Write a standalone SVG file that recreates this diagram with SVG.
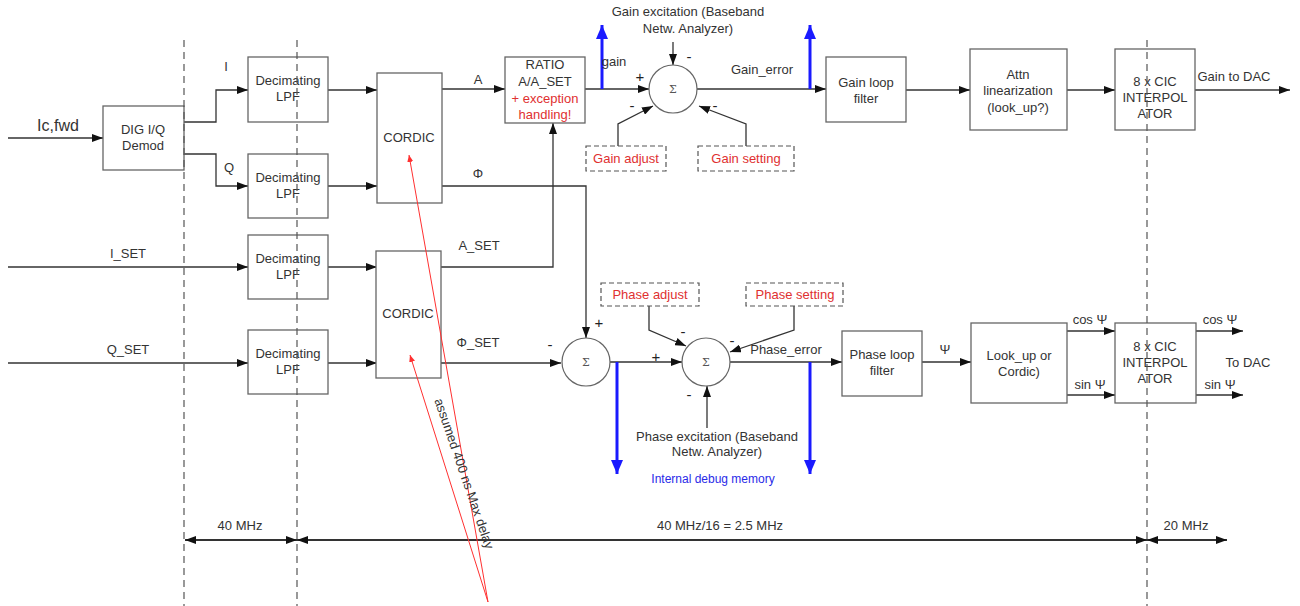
<svg xmlns="http://www.w3.org/2000/svg" width="1300" height="606" viewBox="0 0 1300 606">
<style>
text{font-family:"Liberation Sans",Arial,sans-serif;font-size:13px;fill:#333;text-anchor:middle}
.box{fill:#fff;stroke:#666;stroke-width:1.3}
.dbox{fill:#fff;stroke:#555;stroke-width:1.2;stroke-dasharray:5,3}
.red{fill:#e03030}
.blue{fill:#2a2ae8}
.w{stroke:#333;stroke-width:1.3;fill:none}
.sig{fill:#fff;stroke:#666;stroke-width:1.2}
.sg{font-family:"DejaVu Serif",serif;font-size:11px;fill:#555}
.pm{font-size:15px;fill:#222}
.grid{stroke:#555;stroke-width:1.2;stroke-dasharray:7,5;fill:none}
.dim{stroke:#333;stroke-width:2;fill:none}
.bl{stroke:#1a1aff;stroke-width:3;fill:none}
.rl{stroke:#ff3030;stroke-width:1;fill:none}
</style>
<defs>
<marker id="ah" markerUnits="userSpaceOnUse" markerWidth="11" markerHeight="8" refX="11" refY="4" orient="auto-start-reverse"><path d="M0,0 L11,4 L0,8 z" fill="#111"/></marker>
<marker id="bh" markerUnits="userSpaceOnUse" markerWidth="14" markerHeight="12" refX="14" refY="6" orient="auto"><path d="M0,0 L14,6 L0,12 z" fill="#1a1aff"/></marker>
<marker id="rh" markerUnits="userSpaceOnUse" markerWidth="7" markerHeight="6" refX="7" refY="3" orient="auto"><path d="M0,0 L7,3 L0,6 z" fill="#ff3030"/></marker>
</defs>
<rect width="1300" height="606" fill="#fff"/>

<g id="connectors">
<line class="w" x1="8" y1="138" x2="103" y2="138" marker-end="url(#ah)"/>
<polyline class="w" points="184,122 216,122 216,90 248,90" marker-end="url(#ah)"/>
<polyline class="w" points="184,154 216,154 216,186 248,186" marker-end="url(#ah)"/>
<line class="w" x1="8" y1="267" x2="248" y2="267" marker-end="url(#ah)"/>
<line class="w" x1="8" y1="363" x2="248" y2="363" marker-end="url(#ah)"/>
<line class="w" x1="328" y1="90" x2="377" y2="90" marker-end="url(#ah)"/>
<line class="w" x1="328" y1="186" x2="377" y2="186" marker-end="url(#ah)"/>
<line class="w" x1="328" y1="267" x2="377" y2="267" marker-end="url(#ah)"/>
<line class="w" x1="328" y1="363" x2="377" y2="363" marker-end="url(#ah)"/>
<line class="w" x1="442" y1="89" x2="505" y2="89" marker-end="url(#ah)"/>
<polyline class="w" points="442,186 586,186 586,338" marker-end="url(#ah)"/>
<polyline class="w" points="441,267 553,267 553,123" marker-end="url(#ah)"/>
<line class="w" x1="441" y1="363" x2="561" y2="363" marker-end="url(#ah)"/>
<line class="w" x1="585" y1="89" x2="649" y2="89" marker-end="url(#ah)"/>
<line class="w" x1="673" y1="42" x2="673" y2="65" marker-end="url(#ah)"/>
<polyline class="w" points="618,146 618,124 653,106" marker-end="url(#ah)"/>
<polyline class="w" points="746,146 746,124 699,106" marker-end="url(#ah)"/>
<line class="w" x1="697" y1="89" x2="826" y2="89" marker-end="url(#ah)"/>
<line class="w" x1="906" y1="90" x2="970" y2="90" marker-end="url(#ah)"/>
<line class="w" x1="1067" y1="90" x2="1115" y2="90" marker-end="url(#ah)"/>
<line class="w" x1="1195" y1="90" x2="1290" y2="90" marker-end="url(#ah)"/>
<line class="w" x1="610" y1="362" x2="682" y2="362" marker-end="url(#ah)"/>
<polyline class="w" points="649,306 649,330 686,346" marker-end="url(#ah)"/>
<polyline class="w" points="794,306 794,330 730,352" marker-end="url(#ah)"/>
<line class="w" x1="707" y1="428" x2="707" y2="386" marker-end="url(#ah)"/>
<line class="w" x1="730" y1="362" x2="842" y2="362" marker-end="url(#ah)"/>
<line class="w" x1="922" y1="362" x2="971" y2="362" marker-end="url(#ah)"/>
<line class="w" x1="1067" y1="331" x2="1115" y2="331" marker-end="url(#ah)"/>
<line class="w" x1="1067" y1="395" x2="1115" y2="395" marker-end="url(#ah)"/>
<line class="w" x1="1196" y1="331" x2="1243" y2="331" marker-end="url(#ah)"/>
<line class="w" x1="1196" y1="395" x2="1243" y2="395" marker-end="url(#ah)"/>
<line class="bl" x1="602" y1="89" x2="602" y2="25" marker-end="url(#bh)"/>
<line class="bl" x1="810" y1="89" x2="810" y2="25" marker-end="url(#bh)"/>
<line class="bl" x1="617" y1="362" x2="617" y2="474" marker-end="url(#bh)"/>
<line class="bl" x1="810" y1="362" x2="810" y2="474" marker-end="url(#bh)"/>
<line class="dim" x1="185" y1="540" x2="297" y2="540" marker-start="url(#ah)" marker-end="url(#ah)"/>
<line class="dim" x1="297" y1="540" x2="1147" y2="540" marker-start="url(#ah)" marker-end="url(#ah)"/>
<line class="dim" x1="1147" y1="540" x2="1227" y2="540" marker-start="url(#ah)" marker-end="url(#ah)"/>
</g>

<g id="demod"><rect class="box" x="103" y="106" width="81" height="64"/><text x="143" y="134">DIG I/Q</text><text x="143" y="150">Demod</text></g>
<g id="lpf1"><rect class="box" x="248" y="57" width="80" height="65"/><text x="288" y="85">Decimating</text><text x="288" y="101">LPF</text></g>
<g id="lpf2"><rect class="box" x="248" y="154" width="80" height="64"/><text x="288" y="182">Decimating</text><text x="288" y="198">LPF</text></g>
<g id="lpf3"><rect class="box" x="248" y="235" width="80" height="64"/><text x="288" y="263">Decimating</text><text x="288" y="279">LPF</text></g>
<g id="lpf4"><rect class="box" x="248" y="330" width="80" height="64"/><text x="288" y="358">Decimating</text><text x="288" y="374">LPF</text></g>
<g id="cordic1"><rect class="box" x="377" y="73" width="65" height="130"/><text x="409" y="142">CORDIC</text></g>
<g id="cordic2"><rect class="box" x="376" y="251" width="65" height="127"/><text x="408" y="318">CORDIC</text></g>
<g id="ratio"><rect class="box" x="505" y="57" width="80" height="66"/><text x="545" y="69">RATIO</text><text x="545" y="86">A/A_SET</text><text class="red" x="545" y="103">+ exception</text><text class="red" x="545" y="119">handling!</text></g>
<g id="sumGain"><circle class="sig" cx="673" cy="89" r="24"/><text class="sg" x="673" y="93">Σ</text></g>
<g id="gainAdjust"><rect class="dbox" x="586" y="146" width="80" height="25"/><text class="red" x="626" y="163">Gain adjust</text></g>
<g id="gainSetting"><rect class="dbox" x="698" y="146" width="96" height="25"/><text class="red" x="746" y="163">Gain setting</text></g>
<g id="gainLoop"><rect class="box" x="826" y="57" width="80" height="65"/><text x="866" y="87">Gain loop</text><text x="866" y="103">filter</text></g>
<g id="attn"><rect class="box" x="970" y="49" width="97" height="81"/><text x="1018" y="79">Attn</text><text x="1018" y="95">linearization</text><text x="1018" y="112">(look_up?)</text></g>
<g id="cic1"><rect class="box" x="1115" y="49" width="80" height="81"/><text x="1155" y="86">8 x CIC</text><text x="1155" y="102">INTERPOL</text><text x="1155" y="118">ATOR</text></g>
<g id="sum1"><circle class="sig" cx="586" cy="362" r="24"/><text class="sg" x="586" y="366">Σ</text></g>
<g id="sum2"><circle class="sig" cx="706" cy="362" r="24"/><text class="sg" x="706" y="366">Σ</text></g>
<g id="phaseAdjust"><rect class="dbox" x="601" y="283" width="98" height="23"/><text class="red" x="650" y="299">Phase adjust</text></g>
<g id="phaseSetting"><rect class="dbox" x="746" y="283" width="97" height="23"/><text class="red" x="795" y="299">Phase setting</text></g>
<g id="phaseLoop"><rect class="box" x="842" y="331" width="80" height="65"/><text x="882" y="359">Phase loop</text><text x="882" y="375">filter</text></g>
<g id="lookup"><rect class="box" x="971" y="323" width="96" height="80"/><text x="1019" y="360">Look_up or</text><text x="1019" y="376">Cordic)</text></g>
<g id="cic2"><rect class="box" x="1115" y="323" width="81" height="80"/><text x="1155" y="351">8 x CIC</text><text x="1155" y="367">INTERPOL</text><text x="1155" y="383">ATOR</text></g>

<g id="grid">
<line class="grid" x1="184" y1="40" x2="184" y2="606"/>
<line class="grid" x1="297" y1="40" x2="297" y2="606"/>
<line class="grid" x1="1147" y1="40" x2="1147" y2="606"/>
</g>

<g id="delay-annotation">
<line class="rl" x1="488" y1="602" x2="409" y2="155" marker-end="url(#rh)"/>
<line class="rl" x1="488" y1="602" x2="410" y2="355" marker-end="url(#rh)"/>
</g>

<g id="labels">
<text x="58" y="131" style="font-size:16px">Ic,fwd</text>
<text x="226" y="71">I</text>
<text x="229" y="172">Q</text>
<text x="128" y="258">I_SET</text>
<text x="128" y="354">Q_SET</text>
<text x="478" y="84">A</text>
<text x="478" y="178">Φ</text>
<text x="479" y="250">A_SET</text>
<text x="478" y="347">Φ_SET</text>
<text x="614" y="66">gain</text>
<text x="688" y="16">Gain excitation (Baseband</text>
<text x="688" y="33">Netw. Analyzer)</text>
<text x="762" y="74">Gain_error</text>
<text x="1234" y="81">Gain to DAC</text>
<text class="pm" x="640" y="82">+</text>
<text class="pm" x="632" y="111">-</text>
<text class="pm" x="689" y="62">-</text>
<text class="pm" x="715" y="111">-</text>
<text class="pm" x="599" y="328">+</text>
<text class="pm" x="550" y="350">-</text>
<text class="pm" x="656" y="362">+</text>
<text class="pm" x="683" y="337">-</text>
<text class="pm" x="732" y="346">-</text>
<text class="pm" x="689" y="400">-</text>
<text x="786" y="354">Phase_error</text>
<text x="717" y="441">Phase excitation (Baseband</text>
<text x="717" y="456">Netw. Analyzer)</text>
<text class="blue" x="713" y="483" style="font-size:12px">Internal debug memory</text>
<text x="945" y="354">Ψ</text>
<text x="1090" y="324">cos Ψ</text>
<text x="1090" y="389">sin Ψ</text>
<text x="1220" y="324">cos Ψ</text>
<text x="1248" y="367">To DAC</text>
<text x="1220" y="389">sin Ψ</text>
<text x="240" y="530">40 MHz</text>
<text x="720" y="530">40 MHz/16 = 2.5 MHz</text>
<text x="1186" y="530">20 MHz</text>
<text x="460" y="475" transform="rotate(71 460 475)">assumed 400 ns Max delay</text>
</g>
</svg>
